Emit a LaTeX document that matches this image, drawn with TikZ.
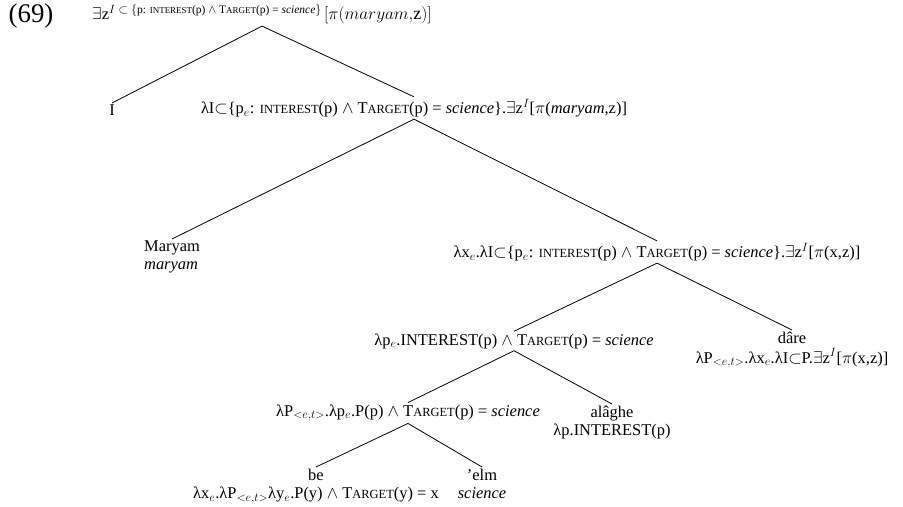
\documentclass[tikz,border=0pt]{standalone}
\usepackage{fontspec}
\setmainfont{Liberation Serif}
\newcommand{\SCx}[1]{{\fontsize{12.5}{13}\selectfont #1}}
\newcommand{\Tg}{T\SCx{ARGET}}
\newcommand{\Int}{\SCx{INTEREST}}
\tikzset{
  lbl/.style={inner sep=2bp, font=\fontsize{16.5}{18}\selectfont, align=center},
  lblL/.style={inner sep=2bp, font=\fontsize{16.5}{18}\selectfont, align=left},
  br/.style={line width=0.8bp, black}
}
\begin{document}
\begin{tikzpicture}[x=1bp,y=-1bp]
\useasboundingbox (0,0) rectangle (903,507);
\fill[white] (0,0) rectangle (903,507);
\node[font=\fontsize{27}{30}\selectfont, inner sep=0] (ex) at (31,16) {(69)};
\node[lbl] (root) at (262,14) {$\exists$z\raisebox{0.4em}{\fontsize{11.5}{12}\selectfont $I\subset\{$p: {\fontsize{9}{10}\selectfont INTEREST}(p) $\wedge$ T{\fontsize{9}{10}\selectfont ARGET}(p) = \textit{science}$\}$}\,{\fontsize{18}{20}\selectfont $[\pi(maryam{,}\mathrm{z})]$}};
\node[lbl, anchor=north] (nI) at (112,103) {I};
\node[lbl] (n2) at (414,108) {λI$\subset$\{p$_e$: \Int(p) $\wedge$ \Tg(p) = \textit{science}\}.$\exists$z$^I$[$\pi$(\textit{maryam},z)]};
\node[lblL, anchor=north] (mar) at (172,239) {Maryam\\\textit{maryam}};
\node[lbl] (n3) at (657,252) {λx$_e$.λI$\subset$\{p$_e$: \Int(p) $\wedge$ \Tg(p) = \textit{science}\}.$\exists$z$^I$[$\pi$(x,z)]};
\node[lbl] (n4) at (514,341) {λp$_e$.INTEREST(p) $\wedge$ \Tg(p) = \textit{science}};
\node[lbl, anchor=north] (dare) at (792,330) {dâre\\[1.5bp]λP$_{<e,t>}$.λx$_e$.λI$\subset$P.$\exists$z$^I$[$\pi$(x,z)]};
\node[lbl] (n5) at (408,413) {λP$_{<e,t>}$.λp$_e$.P(p) $\wedge$ \Tg(p) = \textit{science}};
\node[lbl, anchor=north] (alag) at (612,404) {alâghe\\λp.INTEREST(p)};
\node[lbl, anchor=north] (be) at (316,467) {be\\λx$_e$.λP$_{<e,t>}$λy$_e$.P(y) $\wedge$ \Tg(y) = x};
\node[lbl, anchor=north] (elm) at (482,467) {'elm\\\textit{science}};
\draw[br] (nI.north) -- (root.south) -- (n2.north);
\draw[br] (mar.north) -- (n2.south) -- (n3.north);
\draw[br] (n4.north) -- (n3.south) -- (dare.north);
\draw[br] (n5.north) -- (n4.south) -- (alag.north);
\draw[br] (be.north) -- (n5.south) -- (elm.north);
\end{tikzpicture}
\end{document}
